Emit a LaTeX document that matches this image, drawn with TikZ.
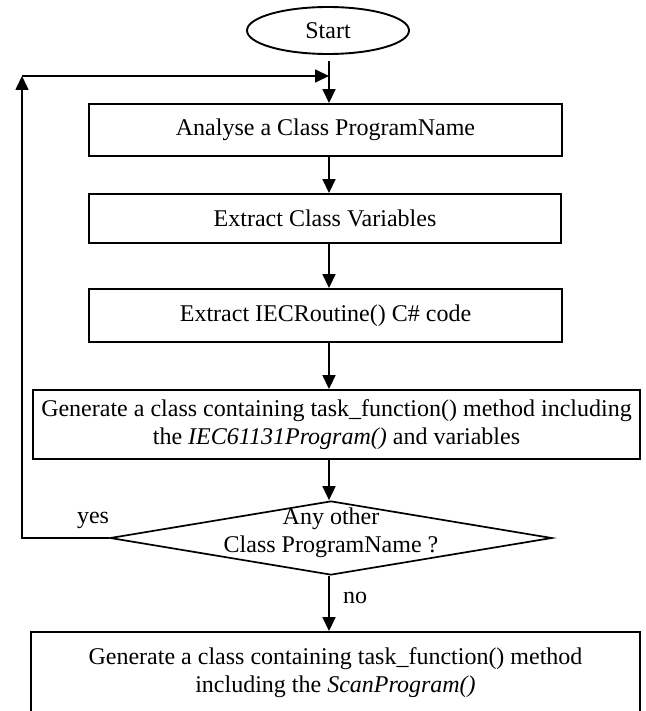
\documentclass[tikz,border=0pt]{standalone}
\usepackage{fontspec}
\setmainfont{Liberation Serif}
\usetikzlibrary{shapes.geometric,arrows.meta}
\begin{document}
\begin{tikzpicture}[x=1pt,y=-1pt,
  every node/.style={font=\fontsize{24}{28}\selectfont},
  line width=1.7pt,
  stepbox/.style={draw, rectangle, inner sep=0pt, align=center, line width=1.9pt},
  arr/.style={-{Triangle[length=14pt,width=13pt]}, line width=1.7pt},
  lbl/.style={inner sep=0pt}]
\clip (0,0) rectangle (645,711);
% vertical axis shared by the main flow arrows
\coordinate (axis) at (329,0);

\node[draw, ellipse, minimum width=162pt, minimum height=47pt, inner sep=0pt, line width=1.9pt] (start) at (328,30.5) {Start};

\node[stepbox, minimum width=473pt, minimum height=52pt] (b1) at (325.5,130) {Analyse a Class ProgramName};
\node[stepbox, minimum width=472pt, minimum height=49pt] (b2) at (325,218.5) {Extract Class Variables};
\node[stepbox, minimum width=473pt, minimum height=53pt] (b3) at (325.5,315.5) {Extract IECRoutine() C\# code};
\node[stepbox, minimum width=607pt, minimum height=69pt] (b4) at (336.5,424.5)
  {Generate a class containing task\_function() method including\\the \textit{IEC61131Program()} and variables};

\node[draw, diamond, aspect=6, inner sep=0pt, minimum width=442pt, minimum height=74pt, line width=1.7pt] (dec) at (331,538)
  {\makebox[0pt]{\raisebox{-3pt}{\smash{\begin{tabular}{@{}c@{}}Any other\\Class ProgramName ?\end{tabular}}}}};

\node[stepbox, minimum width=609pt, minimum height=81pt] (last) at (335.5,672.5)
  {Generate a class containing task\_function() method\\including the \textit{ScanProgram()}};

% loop-back corners
\coordinate (loopbl) at (22,538);
\coordinate (looptl) at (22,76);

% main flow
\draw[arr, shorten <=6pt] (start.south -| axis) -- (b1.north -| axis);
\draw[arr] (b1.south -| axis) -- (b2.north -| axis);
\draw[arr] (b2.south -| axis) -- (b3.north -| axis);
\draw[arr] (b3.south -| axis) -- (b4.north -| axis);
\draw[arr] (b4.south -| axis) -- (dec.north -| axis);
\draw[arr] (dec.south -| axis) -- (last.north -| axis);

% "yes" branch back to the top
\draw[arr] (dec.west) -- (loopbl) -- (looptl);
\draw[arr] (looptl) -- (looptl -| axis);

\node[lbl] (yes) at (93,520) {yes};
\node[lbl] (no) at (355,598) {no};
\end{tikzpicture}
\end{document}
